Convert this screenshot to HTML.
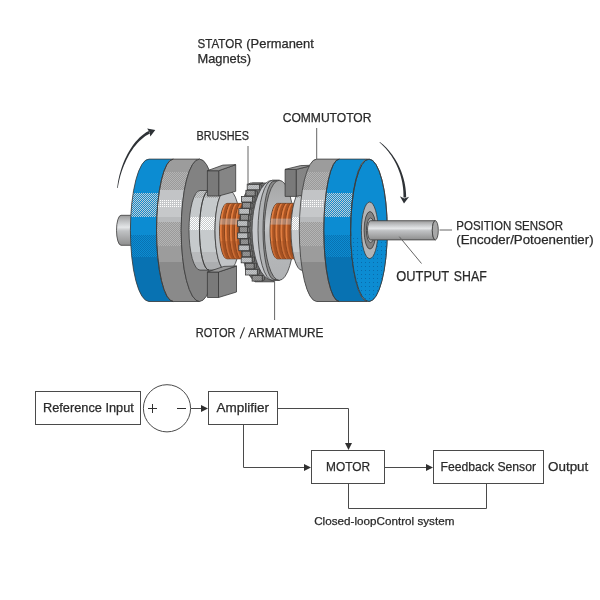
<!DOCTYPE html>
<html><head><meta charset="utf-8"><style>
html,body{margin:0;padding:0;background:#fff;}
svg{display:block;font-family:"Liberation Sans",sans-serif;will-change:transform;}
</style></head><body>
<svg width="600" height="600" viewBox="0 0 600 600">
<rect width="600" height="600" fill="#ffffff"/>
<defs>
<pattern id="dBlue" width="2" height="2" patternUnits="userSpaceOnUse"><rect width="2" height="2" fill="#0c8cd2"/><rect width="1" height="1" fill="#c8ccd0"/><rect x="1" y="1" width="1" height="1" fill="#c8ccd0"/></pattern>
<pattern id="dBlueDk" width="2" height="2" patternUnits="userSpaceOnUse"><rect width="2" height="2" fill="#0c8cd2"/><rect width="1" height="1" fill="#0872b2"/><rect x="1" y="1" width="1" height="1" fill="#0872b2"/></pattern>
<pattern id="dFace" width="4" height="4" patternUnits="userSpaceOnUse"><rect width="4" height="4" fill="#0c8cd2"/><rect x="1" y="2" width="1" height="1" fill="#0a6cac"/></pattern>
<pattern id="dG1" width="2" height="2" patternUnits="userSpaceOnUse"><rect width="2" height="2" fill="#9a9a9a"/><rect width="1" height="1" fill="#b4b4b4"/><rect x="1" y="1" width="1" height="1" fill="#b4b4b4"/></pattern>
<pattern id="dG2" width="2" height="2" patternUnits="userSpaceOnUse"><rect width="2" height="2" fill="#c6c8ca"/><rect width="1" height="1" fill="#ffffff"/></pattern>
<pattern id="dG3" width="2" height="2" patternUnits="userSpaceOnUse"><rect width="2" height="2" fill="#a0a0a0"/><rect width="1" height="1" fill="#b8babc"/><rect x="1" y="1" width="1" height="1" fill="#b8babc"/></pattern>
<pattern id="dHubW" width="2" height="2" patternUnits="userSpaceOnUse"><rect width="2" height="2" fill="#c6cacc"/><rect width="1" height="1" fill="#ffffff"/><rect x="1" y="1" width="1" height="1" fill="#ffffff"/></pattern>
<pattern id="dHubT" width="2" height="2" patternUnits="userSpaceOnUse"><rect width="2" height="2" fill="#c6cacc"/><rect width="1" height="1" fill="#a8a8a8"/><rect x="1" y="1" width="1" height="1" fill="#a8a8a8"/></pattern>
<pattern id="dTooth" width="2" height="2" patternUnits="userSpaceOnUse"><rect width="2" height="2" fill="#acaeb0"/><rect width="1" height="1" fill="#c0c2c4"/><rect x="1" y="1" width="1" height="1" fill="#c0c2c4"/></pattern>
<pattern id="dToothD" width="2" height="2" patternUnits="userSpaceOnUse"><rect width="2" height="2" fill="#848484"/><rect width="1" height="1" fill="#969696"/><rect x="1" y="1" width="1" height="1" fill="#969696"/></pattern>
<linearGradient id="gShaft" x1="0" y1="0" x2="0" y2="1">
<stop offset="0" stop-color="#9a9a9a"/><stop offset="0.22" stop-color="#c4c6c8"/><stop offset="0.40" stop-color="#e4e6e8"/><stop offset="0.52" stop-color="#c0c2c4"/><stop offset="1" stop-color="#8e8e8e"/>
</linearGradient>
<linearGradient id="gDisc" x1="0" y1="0" x2="0" y2="1">
<stop offset="0" stop-color="#a6a6a6"/><stop offset="0.30" stop-color="#b4b6b8"/><stop offset="0.45" stop-color="#c8cacc"/><stop offset="0.55" stop-color="#b8babc"/><stop offset="1" stop-color="#b0b2b4"/>
</linearGradient>
</defs>
<path d="M121,215.3 L135,215.3 A4.5,15 0 0 0 135,245.3 L121,245.3 A4.5,15 0 0 1 121,215.3 Z" fill="url(#gShaft)" stroke="#3a3a3a" stroke-width="0.8"/>
<path d="M149,159.10000000000002 L173.3,159.10000000000002 A16.8,71.2 0 0 0 173.3,301.5 L149,301.5 A18.6,71.2 0 0 1 149,159.10000000000002 Z" fill="#b0b0b0"/><clipPath id="cLB"><path d="M149,159.10000000000002 L173.3,159.10000000000002 A16.8,71.2 0 0 0 173.3,301.5 L149,301.5 A18.6,71.2 0 0 1 149,159.10000000000002 Z"/></clipPath><g clip-path="url(#cLB)"><rect x="100" y="155" width="360" height="38" fill="#0c8cd2"/><rect x="100" y="193" width="360" height="24" fill="url(#dBlue)"/><rect x="100" y="217" width="360" height="21" fill="#0c8cd2"/><rect x="100" y="235" width="360" height="22" fill="url(#dBlueDk)"/><rect x="100" y="257" width="360" height="48" fill="#0872b2"/></g>
<path d="M173.3,159.10000000000002 L199.5,159.10000000000002 A18.3,71.2 0 0 0 199.5,301.5 L173.3,301.5 A16.8,71.2 0 0 1 173.3,159.10000000000002 Z" fill="#b0b0b0"/><clipPath id="cLG"><path d="M173.3,159.10000000000002 L199.5,159.10000000000002 A18.3,71.2 0 0 0 199.5,301.5 L173.3,301.5 A16.8,71.2 0 0 1 173.3,159.10000000000002 Z"/></clipPath><g clip-path="url(#cLG)"><rect x="100" y="155" width="360" height="17" fill="#9c9c9c"/><rect x="100" y="172" width="360" height="18" fill="url(#dG1)"/><rect x="100" y="190" width="360" height="10" fill="#c2c4c6"/><rect x="100" y="200" width="360" height="8" fill="url(#dG2)"/><rect x="100" y="208" width="360" height="9" fill="#c6c8ca"/><rect x="100" y="217" width="360" height="5" fill="#b8babc"/><rect x="100" y="222" width="360" height="24" fill="url(#dG1)"/><rect x="100" y="246" width="360" height="16" fill="#9c9c9c"/><rect x="100" y="262" width="360" height="43" fill="#8a8a8a"/></g>
<path d="M149,159.10000000000002 L173.3,159.10000000000002 A16.8,71.2 0 0 0 173.3,301.5 L149,301.5 A18.6,71.2 0 0 1 149,159.10000000000002 Z" fill="none" stroke="#3a3a3a" stroke-width="0.8"/><path d="M173.3,159.10000000000002 L199.5,159.10000000000002 A18.3,71.2 0 0 0 199.5,301.5 L173.3,301.5 A16.8,71.2 0 0 1 173.3,159.10000000000002 Z" fill="none" stroke="#3a3a3a" stroke-width="0.8"/>
<ellipse cx="199.5" cy="230.3" rx="18.3" ry="71.2" fill="#828282" stroke="#3a3a3a" stroke-width="0.8"/>
<path d="M200,190.5 L209,190.5 A9.5,39.8 0 0 0 209,270.1 L200,270.1 A11,39.8 0 0 1 200,190.5 Z" fill="#b0b0b0"/><clipPath id="cH1"><path d="M200,190.5 L209,190.5 A9.5,39.8 0 0 0 209,270.1 L200,270.1 A11,39.8 0 0 1 200,190.5 Z"/></clipPath><g clip-path="url(#cH1)"><rect x="100" y="185" width="360" height="13" fill="url(#dHubT)"/><rect x="100" y="198" width="360" height="19" fill="#c6cacc"/><rect x="100" y="217" width="360" height="13" fill="url(#dHubW)"/><rect x="100" y="230" width="360" height="22" fill="#c6cacc"/><rect x="100" y="252" width="360" height="10" fill="#b8babc"/><rect x="100" y="262" width="360" height="13" fill="#acaeb0"/></g>
<path d="M209,190.5 L225.5,190.5 A10.5,39.8 0 0 0 225.5,270.1 L209,270.1 A9.5,39.8 0 0 1 209,190.5 Z" fill="#b0b0b0"/><clipPath id="cH2"><path d="M209,190.5 L225.5,190.5 A10.5,39.8 0 0 0 225.5,270.1 L209,270.1 A9.5,39.8 0 0 1 209,190.5 Z"/></clipPath><g clip-path="url(#cH2)"><rect x="100" y="185" width="360" height="13" fill="url(#dHubT)"/><rect x="100" y="198" width="360" height="19" fill="#c6cacc"/><rect x="100" y="217" width="360" height="13" fill="url(#dHubW)"/><rect x="100" y="230" width="360" height="22" fill="#c6cacc"/><rect x="100" y="252" width="360" height="10" fill="#b8babc"/><rect x="100" y="262" width="360" height="13" fill="#acaeb0"/></g>
<path d="M200,190.5 L209,190.5 A9.5,39.8 0 0 0 209,270.1 L200,270.1 A11,39.8 0 0 1 200,190.5 Z" fill="none" stroke="#3a3a3a" stroke-width="0.8"/><path d="M209,190.5 L225.5,190.5 A10.5,39.8 0 0 0 225.5,270.1 L209,270.1 A9.5,39.8 0 0 1 209,190.5 Z" fill="none" stroke="#3a3a3a" stroke-width="0.8"/>
<path d="M225.5,190.5 L229,190.5 A11.5,39.8 0 0 1 229,270.1 L225.5,270.1 A10.5,39.8 0 0 1 225.5,190.5 Z" fill="#c2c4c6" stroke="#3a3a3a" stroke-width="0.8"/>
<path d="M227,203.40000000000003 L246,203.40000000000003 A7.5,27.7 0 0 0 246,258.8 L227,258.8 A7.5,27.7 0 0 1 227,203.40000000000003 Z" fill="#d87034" stroke="#4a3020" stroke-width="0.8"/><clipPath id="cc227"><path d="M227,203.40000000000003 L246,203.40000000000003 A7.5,27.7 0 0 0 246,258.8 L227,258.8 A7.5,27.7 0 0 1 227,203.40000000000003 Z"/></clipPath><g clip-path="url(#cc227)"><path d="M230.5,202.40000000000003 A7.5,28.7 0 0 0 230.5,259.8" fill="none" stroke="#a85424" stroke-width="2.4"/><path d="M232.0,202.40000000000003 A7.5,28.7 0 0 0 232.0,259.8" fill="none" stroke="#6a3414" stroke-width="0.7"/><path d="M228.1,202.40000000000003 A7.5,28.7 0 0 0 228.1,259.8" fill="none" stroke="#e88a4c" stroke-width="0.8"/><path d="M235.5,202.40000000000003 A7.5,28.7 0 0 0 235.5,259.8" fill="none" stroke="#a85424" stroke-width="2.4"/><path d="M237.0,202.40000000000003 A7.5,28.7 0 0 0 237.0,259.8" fill="none" stroke="#6a3414" stroke-width="0.7"/><path d="M233.1,202.40000000000003 A7.5,28.7 0 0 0 233.1,259.8" fill="none" stroke="#e88a4c" stroke-width="0.8"/><path d="M240.5,202.40000000000003 A7.5,28.7 0 0 0 240.5,259.8" fill="none" stroke="#a85424" stroke-width="2.4"/><path d="M242.0,202.40000000000003 A7.5,28.7 0 0 0 242.0,259.8" fill="none" stroke="#6a3414" stroke-width="0.7"/><path d="M238.1,202.40000000000003 A7.5,28.7 0 0 0 238.1,259.8" fill="none" stroke="#e88a4c" stroke-width="0.8"/><path d="M245.5,202.40000000000003 A7.5,28.7 0 0 0 245.5,259.8" fill="none" stroke="#a85424" stroke-width="2.4"/><path d="M247.0,202.40000000000003 A7.5,28.7 0 0 0 247.0,259.8" fill="none" stroke="#6a3414" stroke-width="0.7"/><path d="M243.1,202.40000000000003 A7.5,28.7 0 0 0 243.1,259.8" fill="none" stroke="#e88a4c" stroke-width="0.8"/><rect x="217.5" y="241.10000000000002" width="40" height="30" fill="#a04c20" opacity="0.35"/><rect x="217.5" y="218.60000000000002" width="40" height="6" fill="#c8d0d8" opacity="0.4"/></g>
<path d="M252.2,183.0 L250.5,185.5 L248.9,187.9 L247.5,190.4 L246.0,192.9 L244.6,195.3 L244.0,197.8 L243.4,200.3 L242.8,202.8 L242.2,205.2 L241.7,207.7 L241.3,210.2 L241.0,212.6 L240.6,215.1 L240.2,217.6 L239.8,220.1 L239.6,222.5 L239.5,225.0 L239.4,227.5 L239.2,229.9 L239.4,232.4 L239.6,234.9 L239.7,237.3 L239.9,239.8 L240.2,242.3 L240.6,244.8 L240.9,247.2 L241.3,249.7 L241.6,252.2 L242.0,254.6 L242.5,257.1 L243.2,259.6 L243.9,262.0 L244.6,264.5 L245.3,267.0 L246.2,269.5 L247.4,271.9 L248.8,274.4 L250.6,276.9 L252.5,279.3 L255.0,281.8 L274.5,281.8 L270.5,279.3 L267.0,276.9 L264.8,274.4 L263.1,271.9 L261.7,269.5 L260.6,267.0 L259.5,264.5 L258.7,262.0 L257.9,259.6 L257.2,257.1 L256.6,254.6 L256.1,252.2 L255.6,249.7 L255.2,247.2 L254.9,244.8 L254.6,242.3 L254.4,239.8 L254.2,237.3 L254.1,234.9 L254.0,232.4 L254.0,229.9 L254.0,227.5 L254.1,225.0 L254.2,222.5 L254.4,220.1 L254.7,217.6 L255.0,215.1 L255.3,212.6 L255.7,210.2 L256.2,207.7 L256.8,205.2 L257.4,202.8 L258.1,200.3 L258.9,197.8 L259.8,195.3 L260.9,192.9 L262.1,190.4 L263.6,187.9 L265.4,185.5 L267.9,183.0 Z" fill="#6e6e6e" stroke="#3a3a3a" stroke-width="0.8"/>
<path d="M259.5,184.2 l2.4,1.3 v4.5 l-2.4,-0.3 Z" fill="#767676" stroke="#3a3a3a" stroke-width="0.8"/>
<rect x="247.2" y="184.2" width="12.3" height="5.6" fill="url(#dTooth)" stroke="#3a3a3a" stroke-width="0.8"/>
<path d="M255.1,190.3 l2.4,1.3 v4.5 l-2.4,-0.3 Z" fill="#767676" stroke="#3a3a3a" stroke-width="0.8"/>
<rect x="245.9" y="190.3" width="9.2" height="5.6" fill="url(#dToothD)" stroke="#3a3a3a" stroke-width="0.8"/>
<path d="M252.6,196.4 l2.4,1.3 v4.5 l-2.4,-0.3 Z" fill="#767676" stroke="#3a3a3a" stroke-width="0.8"/>
<rect x="241.4" y="196.4" width="11.1" height="5.6" fill="url(#dTooth)" stroke="#3a3a3a" stroke-width="0.8"/>
<path d="M250.7,202.5 l2.4,1.3 v4.5 l-2.4,-0.3 Z" fill="#767676" stroke="#3a3a3a" stroke-width="0.8"/>
<rect x="242.3" y="202.5" width="8.4" height="5.6" fill="url(#dToothD)" stroke="#3a3a3a" stroke-width="0.8"/>
<path d="M249.5,208.6 l2.4,1.3 v4.5 l-2.4,-0.3 Z" fill="#767676" stroke="#3a3a3a" stroke-width="0.8"/>
<rect x="238.9" y="208.6" width="10.6" height="5.6" fill="url(#dTooth)" stroke="#3a3a3a" stroke-width="0.8"/>
<path d="M248.4,214.6 l2.4,1.3 v4.5 l-2.4,-0.3 Z" fill="#767676" stroke="#3a3a3a" stroke-width="0.8"/>
<rect x="240.4" y="214.6" width="8.1" height="5.6" fill="url(#dToothD)" stroke="#3a3a3a" stroke-width="0.8"/>
<path d="M247.8,220.7 l2.4,1.3 v4.5 l-2.4,-0.3 Z" fill="#767676" stroke="#3a3a3a" stroke-width="0.8"/>
<rect x="237.4" y="220.7" width="10.4" height="5.6" fill="url(#dTooth)" stroke="#3a3a3a" stroke-width="0.8"/>
<path d="M247.4,226.8 l2.4,1.3 v4.5 l-2.4,-0.3 Z" fill="#767676" stroke="#3a3a3a" stroke-width="0.8"/>
<rect x="239.4" y="226.8" width="8.0" height="5.6" fill="url(#dToothD)" stroke="#3a3a3a" stroke-width="0.8"/>
<path d="M247.8,232.9 l2.4,-0.3 v4.5 l-2.4,1.3 Z" fill="#767676" stroke="#3a3a3a" stroke-width="0.8"/>
<rect x="237.4" y="232.9" width="10.4" height="5.6" fill="url(#dTooth)" stroke="#3a3a3a" stroke-width="0.8"/>
<path d="M248.4,239.0 l2.4,-0.3 v4.5 l-2.4,1.3 Z" fill="#767676" stroke="#3a3a3a" stroke-width="0.8"/>
<rect x="240.4" y="239.0" width="8.0" height="5.6" fill="url(#dToothD)" stroke="#3a3a3a" stroke-width="0.8"/>
<path d="M249.3,245.1 l2.4,-0.3 v4.5 l-2.4,1.3 Z" fill="#767676" stroke="#3a3a3a" stroke-width="0.8"/>
<rect x="238.8" y="245.1" width="10.5" height="5.6" fill="url(#dTooth)" stroke="#3a3a3a" stroke-width="0.8"/>
<path d="M250.4,251.2 l2.4,-0.3 v4.5 l-2.4,1.3 Z" fill="#767676" stroke="#3a3a3a" stroke-width="0.8"/>
<rect x="242.1" y="251.2" width="8.2" height="5.6" fill="url(#dToothD)" stroke="#3a3a3a" stroke-width="0.8"/>
<path d="M252.1,257.2 l2.4,-0.3 v4.5 l-2.4,1.3 Z" fill="#767676" stroke="#3a3a3a" stroke-width="0.8"/>
<rect x="241.2" y="257.2" width="10.9" height="5.6" fill="url(#dTooth)" stroke="#3a3a3a" stroke-width="0.8"/>
<path d="M254.2,263.3 l2.4,-0.3 v4.5 l-2.4,1.3 Z" fill="#767676" stroke="#3a3a3a" stroke-width="0.8"/>
<rect x="245.3" y="263.3" width="8.8" height="5.6" fill="url(#dToothD)" stroke="#3a3a3a" stroke-width="0.8"/>
<path d="M257.3,269.4 l2.4,-0.3 v4.5 l-2.4,1.3 Z" fill="#767676" stroke="#3a3a3a" stroke-width="0.8"/>
<rect x="245.5" y="269.4" width="11.8" height="5.6" fill="url(#dTooth)" stroke="#3a3a3a" stroke-width="0.8"/>
<path d="M262.2,275.5 l2.4,-0.3 v4.5 l-2.4,1.3 Z" fill="#767676" stroke="#3a3a3a" stroke-width="0.8"/>
<rect x="252.1" y="275.5" width="10.1" height="5.6" fill="url(#dToothD)" stroke="#3a3a3a" stroke-width="0.8"/>
<path d="M247.6,184.4 L250.5,183 L263,183 L258.3,184.4 Z" fill="#8a8a8a" stroke="#3a3a3a" stroke-width="0.8"/>
<path d="M272.5,180.3 A20.5,50 0 0 0 272.5,280.3 L279.3,280.3 L279.3,180.3 Z" fill="#c6c8cc" stroke="#3a3a3a" stroke-width="0.8"/>
<path d="M272.5,180.3 A14.5,50 0 0 0 272.5,280.3 L279.3,280.3 L279.3,180.3 Z" fill="#b0b2b4" stroke="#3a3a3a" stroke-width="0.8"/>
<path d="M274,181.10000000000002 A11,49.2 0 0 0 274,279.5 L279.3,279.5 L279.3,181.10000000000002 Z" fill="#8a8a8a" stroke="#3a3a3a" stroke-width="0.8"/>
<ellipse cx="279.3" cy="230.3" rx="14.9" ry="50" fill="url(#gDisc)" stroke="#3a3a3a" stroke-width="0.8"/>
<path d="M277.5,203.40000000000003 L303,203.40000000000003 A7.5,27.7 0 0 0 303,258.8 L277.5,258.8 A7.5,27.7 0 0 1 277.5,203.40000000000003 Z" fill="#d87034" stroke="#4a3020" stroke-width="0.8"/><clipPath id="cc277"><path d="M277.5,203.40000000000003 L303,203.40000000000003 A7.5,27.7 0 0 0 303,258.8 L277.5,258.8 A7.5,27.7 0 0 1 277.5,203.40000000000003 Z"/></clipPath><g clip-path="url(#cc277)"><path d="M281,202.40000000000003 A7.5,28.7 0 0 0 281,259.8" fill="none" stroke="#a85424" stroke-width="2.4"/><path d="M282.5,202.40000000000003 A7.5,28.7 0 0 0 282.5,259.8" fill="none" stroke="#6a3414" stroke-width="0.7"/><path d="M278.6,202.40000000000003 A7.5,28.7 0 0 0 278.6,259.8" fill="none" stroke="#e88a4c" stroke-width="0.8"/><path d="M286,202.40000000000003 A7.5,28.7 0 0 0 286,259.8" fill="none" stroke="#a85424" stroke-width="2.4"/><path d="M287.5,202.40000000000003 A7.5,28.7 0 0 0 287.5,259.8" fill="none" stroke="#6a3414" stroke-width="0.7"/><path d="M283.6,202.40000000000003 A7.5,28.7 0 0 0 283.6,259.8" fill="none" stroke="#e88a4c" stroke-width="0.8"/><path d="M291,202.40000000000003 A7.5,28.7 0 0 0 291,259.8" fill="none" stroke="#a85424" stroke-width="2.4"/><path d="M292.5,202.40000000000003 A7.5,28.7 0 0 0 292.5,259.8" fill="none" stroke="#6a3414" stroke-width="0.7"/><path d="M288.6,202.40000000000003 A7.5,28.7 0 0 0 288.6,259.8" fill="none" stroke="#e88a4c" stroke-width="0.8"/><path d="M296,202.40000000000003 A7.5,28.7 0 0 0 296,259.8" fill="none" stroke="#a85424" stroke-width="2.4"/><path d="M297.5,202.40000000000003 A7.5,28.7 0 0 0 297.5,259.8" fill="none" stroke="#6a3414" stroke-width="0.7"/><path d="M293.6,202.40000000000003 A7.5,28.7 0 0 0 293.6,259.8" fill="none" stroke="#e88a4c" stroke-width="0.8"/><rect x="268.0" y="241.10000000000002" width="40" height="30" fill="#a04c20" opacity="0.35"/><rect x="268.0" y="218.60000000000002" width="40" height="6" fill="#c8d0d8" opacity="0.4"/></g>
<path d="M302,190.3 L322,190.3 A11,40 0 0 0 322,270.3 L302,270.3 A11,40 0 0 1 302,190.3 Z" fill="#b0b0b0"/><clipPath id="cRH"><path d="M302,190.3 L322,190.3 A11,40 0 0 0 322,270.3 L302,270.3 A11,40 0 0 1 302,190.3 Z"/></clipPath><g clip-path="url(#cRH)"><rect x="100" y="185" width="360" height="13" fill="url(#dHubT)"/><rect x="100" y="198" width="360" height="19" fill="#c6cacc"/><rect x="100" y="217" width="360" height="13" fill="url(#dHubW)"/><rect x="100" y="230" width="360" height="22" fill="#c6cacc"/><rect x="100" y="252" width="360" height="10" fill="#b8babc"/><rect x="100" y="262" width="360" height="13" fill="#acaeb0"/></g>
<path d="M302,190.3 L322,190.3 A11,40 0 0 0 322,270.3 L302,270.3 A11,40 0 0 1 302,190.3 Z" fill="none" stroke="#3a3a3a" stroke-width="0.8"/>
<path d="M218.70000000000002,170.7 L235.70000000000002,164.7 L235.70000000000002,191.3 L218.70000000000002,196.0 Z" fill="#858585" stroke="#3a3a3a" stroke-width="0.8"/><path d="M207.4,170.7 L218.70000000000002,170.7 L218.70000000000002,196.0 L207.4,196.0 Z" fill="#7a7a7a" stroke="#3a3a3a" stroke-width="0.8"/><path d="M207.4,170.7 L222.9,165.1 L235.70000000000002,164.7 L218.70000000000002,170.7 Z" fill="#989898" stroke="#3a3a3a" stroke-width="0.8"/>
<path d="M218.5,272 L236.5,266 L236.5,292 L218.5,297.5 Z" fill="#858585" stroke="#3a3a3a" stroke-width="0.8"/><path d="M207.4,272 L218.5,272 L218.5,297.5 L207.4,297.5 Z" fill="#7a7a7a" stroke="#3a3a3a" stroke-width="0.8"/><path d="M207.4,272 L223.9,266.4 L236.5,266 L218.5,272 Z" fill="#989898" stroke="#3a3a3a" stroke-width="0.8"/>
<path d="M296.20000000000005,169.4 L313.20000000000005,165.20000000000002 L313.20000000000005,193 L296.20000000000005,196.4 Z" fill="#858585" stroke="#3a3a3a" stroke-width="0.8"/><path d="M285.1,169.4 L296.20000000000005,169.4 L296.20000000000005,196.4 L285.1,196.4 Z" fill="#7a7a7a" stroke="#3a3a3a" stroke-width="0.8"/><path d="M285.1,169.4 L300.6,165.60000000000002 L313.20000000000005,165.20000000000002 L296.20000000000005,169.4 Z" fill="#989898" stroke="#3a3a3a" stroke-width="0.8"/>
<path d="M316.7,159.10000000000002 L339.3,159.10000000000002 A15.5,71.2 0 0 0 339.3,301.5 L316.7,301.5 A17.4,71.2 0 0 1 316.7,159.10000000000002 Z" fill="#b0b0b0"/><clipPath id="cRG"><path d="M316.7,159.10000000000002 L339.3,159.10000000000002 A15.5,71.2 0 0 0 339.3,301.5 L316.7,301.5 A17.4,71.2 0 0 1 316.7,159.10000000000002 Z"/></clipPath><g clip-path="url(#cRG)"><rect x="100" y="155" width="360" height="17" fill="#9c9c9c"/><rect x="100" y="172" width="360" height="18" fill="url(#dG1)"/><rect x="100" y="190" width="360" height="10" fill="#c2c4c6"/><rect x="100" y="200" width="360" height="8" fill="url(#dG2)"/><rect x="100" y="208" width="360" height="9" fill="#c6c8ca"/><rect x="100" y="217" width="360" height="5" fill="#b8babc"/><rect x="100" y="222" width="360" height="24" fill="url(#dG1)"/><rect x="100" y="246" width="360" height="16" fill="#9c9c9c"/><rect x="100" y="262" width="360" height="43" fill="#8a8a8a"/></g>
<path d="M339.3,159.10000000000002 L367.5,159.10000000000002 A16.8,71.2 0 0 0 367.5,301.5 L339.3,301.5 A15.5,71.2 0 0 1 339.3,159.10000000000002 Z" fill="#b0b0b0"/><clipPath id="cRB"><path d="M339.3,159.10000000000002 L367.5,159.10000000000002 A16.8,71.2 0 0 0 367.5,301.5 L339.3,301.5 A15.5,71.2 0 0 1 339.3,159.10000000000002 Z"/></clipPath><g clip-path="url(#cRB)"><rect x="100" y="155" width="360" height="38" fill="#0c8cd2"/><rect x="100" y="193" width="360" height="24" fill="url(#dBlue)"/><rect x="100" y="217" width="360" height="21" fill="#0c8cd2"/><rect x="100" y="235" width="360" height="22" fill="url(#dBlueDk)"/><rect x="100" y="257" width="360" height="48" fill="#0872b2"/></g>
<path d="M316.7,159.10000000000002 L339.3,159.10000000000002 A15.5,71.2 0 0 0 339.3,301.5 L316.7,301.5 A17.4,71.2 0 0 1 316.7,159.10000000000002 Z" fill="none" stroke="#3a3a3a" stroke-width="0.8"/><path d="M339.3,159.10000000000002 L367.5,159.10000000000002 A16.8,71.2 0 0 0 367.5,301.5 L339.3,301.5 A15.5,71.2 0 0 1 339.3,159.10000000000002 Z" fill="none" stroke="#3a3a3a" stroke-width="0.8"/>
<ellipse cx="369" cy="230.3" rx="18.3" ry="71.2" fill="#0c8cd2" stroke="#3a3a3a" stroke-width="0.8"/>
<clipPath id="cFace"><ellipse cx="369" cy="230.3" rx="18.3" ry="71.2"/></clipPath><g clip-path="url(#cFace)"><rect x="350" y="236" width="40" height="70" fill="url(#dFace)"/></g>
<ellipse cx="369" cy="230.3" rx="18.3" ry="71.2" fill="none" stroke="#3a3a3a" stroke-width="0.8"/>
<ellipse cx="369.7" cy="230.3" rx="8.3" ry="28.3" fill="#b2b4b6" stroke="#3a3a3a" stroke-width="0.8"/>
<ellipse cx="370" cy="230.3" rx="5.9" ry="18.8" fill="#828282" stroke="#3a3a3a" stroke-width="0.8"/>
<ellipse cx="370.6" cy="230.3" rx="4.2" ry="12.3" fill="#b0b2b4" stroke="#3a3a3a" stroke-width="0.8"/>
<path d="M370.5,220.70000000000002 L435.3,220.70000000000002 A3,9.6 0 0 0 435.3,239.9 L370.5,239.9 A3,9.6 0 0 1 370.5,220.70000000000002 Z" fill="url(#gShaft)" stroke="#3a3a3a" stroke-width="0.8"/>
<ellipse cx="435.3" cy="230.3" rx="3" ry="9.6" fill="#a8a8a8" stroke="#3a3a3a" stroke-width="0.8"/>
<path d="M117.80,188.03 L118.14,185.75 L118.56,183.38 L119.08,180.92 L119.68,178.41 L120.37,175.84 L121.15,173.23 L122.02,170.59 L122.97,167.94 L124.02,165.28 L125.15,162.63 L126.37,160.00 L127.67,157.41 L129.06,154.86 L130.54,152.37 L132.11,149.96 L133.76,147.62 L135.50,145.39 L137.32,143.26 L139.22,141.25 L141.21,139.38 L143.27,137.65 L145.41,136.08 L147.64,134.68 L149.93,133.45 L148.67,130.95 L146.23,132.36 L143.90,133.95 L141.68,135.69 L139.56,137.59 L137.54,139.63 L135.62,141.78 L133.80,144.05 L132.08,146.42 L130.46,148.88 L128.93,151.41 L127.49,154.00 L126.15,156.64 L124.91,159.32 L123.75,162.03 L122.69,164.76 L121.72,167.49 L120.84,170.21 L120.05,172.90 L119.35,175.57 L118.74,178.19 L118.22,180.75 L117.79,183.24 L117.45,185.65 L117.20,187.97 Z" fill="#2e3236"/>
<path d="M155.3,130 L147.2,128.4 L149.6,132.4 L150.3,136.4 Z" fill="#2e3236"/>
<path d="M379.51,142.43 L381.02,143.74 L382.52,145.14 L384.01,146.65 L385.50,148.25 L386.96,149.95 L388.40,151.74 L389.81,153.63 L391.19,155.60 L392.52,157.66 L393.80,159.80 L395.03,162.03 L396.20,164.33 L397.31,166.72 L398.34,169.18 L399.29,171.72 L400.17,174.32 L400.95,177.00 L401.64,179.74 L402.22,182.55 L402.70,185.42 L403.07,188.35 L403.32,191.34 L403.45,194.39 L403.45,197.49 L406.15,197.51 L406.06,194.30 L405.84,191.14 L405.49,188.06 L405.02,185.04 L404.44,182.09 L403.75,179.22 L402.95,176.42 L402.06,173.69 L401.08,171.05 L400.02,168.48 L398.88,165.99 L397.67,163.59 L396.40,161.27 L395.07,159.04 L393.68,156.90 L392.25,154.85 L390.78,152.90 L389.28,151.04 L387.75,149.27 L386.19,147.60 L384.62,146.04 L383.05,144.58 L381.46,143.22 L379.89,141.97 Z" fill="#2e3236"/>
<path d="M404,203.6 L399.9,196.2 L404.3,198.4 L409.1,196.8 Z" fill="#2e3236"/>
<path d="M248,146 V186 M316.7,128 V159 M274.6,281 V320 M439.5,230 H452 M399.3,236.7 L421.5,263.5" stroke="#666666" stroke-width="1" fill="none"/>
<g opacity="0.999">
<text x="197.5" y="48.4" font-size="12.6" textLength="45.0" lengthAdjust="spacingAndGlyphs" fill="#2a2a2a" stroke="#2a2a2a" stroke-width="0.25">STATOR</text>
<text x="246.3" y="48.4" font-size="12.6" textLength="67.5" lengthAdjust="spacingAndGlyphs" fill="#2a2a2a" stroke="#2a2a2a" stroke-width="0.25">(Permanent</text>
<text x="197.5" y="63.2" font-size="12.6" textLength="53.5" lengthAdjust="spacingAndGlyphs" fill="#2a2a2a" stroke="#2a2a2a" stroke-width="0.25">Magnets)</text>
<text x="282.7" y="122.4" font-size="12.2" textLength="88.7" lengthAdjust="spacingAndGlyphs" fill="#2a2a2a" stroke="#2a2a2a" stroke-width="0.25">COMMUTOTOR</text>
<text x="196.5" y="139.5" font-size="12.2" textLength="52.5" lengthAdjust="spacingAndGlyphs" fill="#2a2a2a" stroke="#2a2a2a" stroke-width="0.25">BRUSHES</text>
<text x="195.8" y="336.7" font-size="12.2" textLength="39.7" lengthAdjust="spacingAndGlyphs" fill="#2a2a2a" stroke="#2a2a2a" stroke-width="0.25">ROTOR</text>
<path d="M240.1,338.6 L244.5,327.4" stroke="#2a2a2a" stroke-width="1.1" fill="none"/>
<text x="248.3" y="336.7" font-size="12.2" textLength="75.2" lengthAdjust="spacingAndGlyphs" fill="#2a2a2a" stroke="#2a2a2a" stroke-width="0.25">ARMATMURE</text>
<text x="456.3" y="229.8" font-size="12.6" textLength="106.7" lengthAdjust="spacingAndGlyphs" fill="#2a2a2a" stroke="#2a2a2a" stroke-width="0.25">POSITION SENSOR</text>
<text x="456.3" y="244.3" font-size="12.6" textLength="137.3" lengthAdjust="spacingAndGlyphs" fill="#2a2a2a" stroke="#2a2a2a" stroke-width="0.25">(Encoder/Potoenentier)</text>
<text x="396.3" y="281" font-size="14.6" textLength="52.9" lengthAdjust="spacingAndGlyphs" fill="#2a2a2a" stroke="#2a2a2a" stroke-width="0.25">OUTPUT</text>
<text x="453.8" y="281" font-size="14.6" textLength="32.9" lengthAdjust="spacingAndGlyphs" fill="#2a2a2a" stroke="#2a2a2a" stroke-width="0.25">SHAF</text>
<g fill="none" stroke="#4a4a4a" stroke-width="1">
<rect x="35.5" y="391.5" width="105" height="33"/>
<circle cx="167" cy="408.3" r="23.6"/>
<rect x="208.5" y="391.5" width="69" height="33"/>
<rect x="311.5" y="450.5" width="73" height="33"/>
<rect x="433.5" y="450.5" width="110" height="33"/>
<path d="M191,408.5 H203 M277.5,408.5 H348.5 V445 M243.5,424.5 V467.5 H306 M384.5,467.5 H428 M348.5,483.5 V508.5 H486.5 V483.5"/>
</g>
<g fill="#303030"><path d="M208,408.5 L201,405 V412 Z"/><path d="M348.5,450 L345,443 H352 Z"/><path d="M311,467.5 L304,464 V471 Z"/><path d="M433,467.5 L426,464 V471 Z"/></g>
<text x="43" y="411.8" font-size="12.6" textLength="90.8" lengthAdjust="spacingAndGlyphs" fill="#2a2a2a" stroke="#2a2a2a" stroke-width="0.25">Reference Input</text>
<text x="216.5" y="411.8" font-size="12.6" textLength="52.5" lengthAdjust="spacingAndGlyphs" fill="#2a2a2a" stroke="#2a2a2a" stroke-width="0.25">Amplifier</text>
<text x="326" y="470.8" font-size="12.6" textLength="44.0" lengthAdjust="spacingAndGlyphs" fill="#2a2a2a" stroke="#2a2a2a" stroke-width="0.25">MOTOR</text>
<text x="440.5" y="470.8" font-size="12.6" textLength="95.5" lengthAdjust="spacingAndGlyphs" fill="#2a2a2a" stroke="#2a2a2a" stroke-width="0.25">Feedback Sensor</text>
<text x="548" y="470.8" font-size="12.8" textLength="40.3" lengthAdjust="spacingAndGlyphs" fill="#2a2a2a" stroke="#2a2a2a" stroke-width="0.25">Output</text>
<text x="314.2" y="524.5" font-size="11.2" textLength="140.2" lengthAdjust="spacingAndGlyphs" fill="#2a2a2a" stroke="#2a2a2a" stroke-width="0.25">Closed-loopControl system</text>
<path d="M148,408.5 H157 M152.5,404 V413 M177,408.5 H186" stroke="#303030" stroke-width="1" fill="none"/>
</g>
</svg>
</body></html>
